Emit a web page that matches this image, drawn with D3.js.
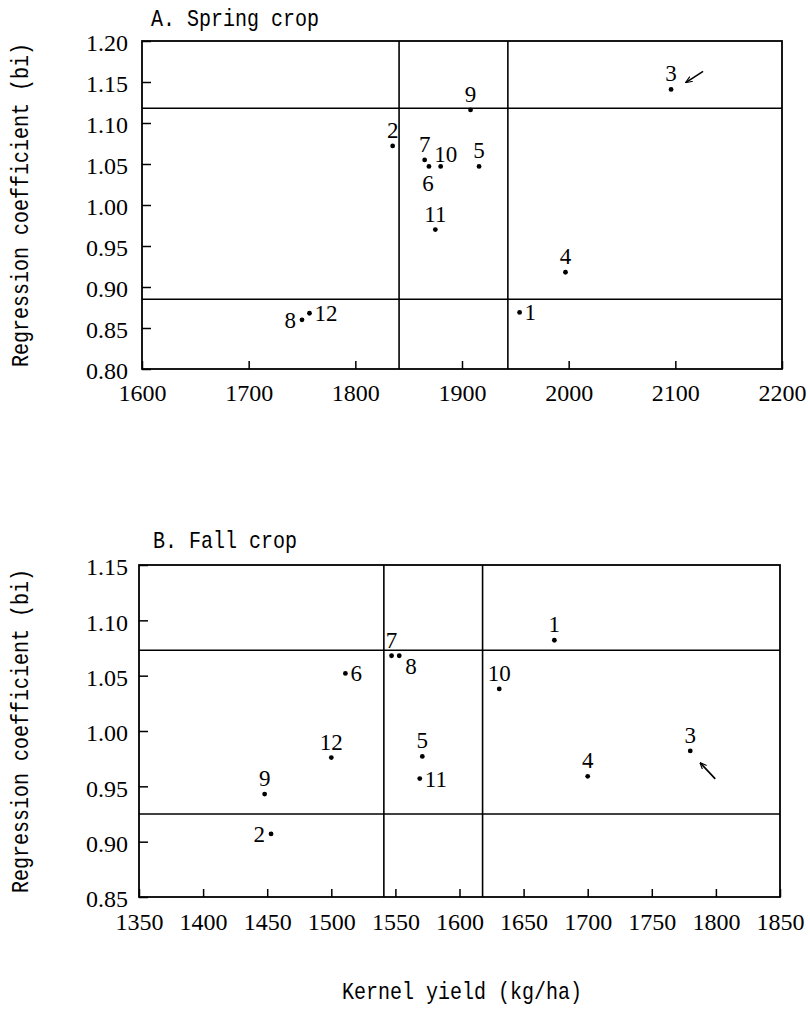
<!DOCTYPE html>
<html>
<head>
<meta charset="utf-8">
<script src="https://cdn.jsdelivr.net/npm/d3@7"></script>
<style>
  body { margin: 0; background: #fff; }
</style>
</head>
<body>
<div id="chart"></div>
<script>
// genotype numbers, same for both seasons
var genotypes = [1, 2, 3, 4, 5, 6, 7, 8, 9, 10, 11, 12];

// A. spring crop: kernel yield (kg/ha) and regression coefficient bi
var springYield = [1954, 1835, 2096, 1997, 1916, 1869, 1865, 1750, 1908, 1880, 1875, 1757];
var springBi = [0.869, 1.072, 1.141, 0.918, 1.047, 1.047, 1.055, 0.860, 1.116, 1.047, 0.970, 0.868];

// B. fall crop
var fallYield = [1674, 1453, 1780, 1700, 1571, 1511, 1547, 1553, 1448, 1631, 1569, 1500];
var fallBi = [1.082, 0.907, 0.982, 0.959, 0.977, 1.052, 1.068, 1.068, 0.943, 1.038, 0.957, 0.976];

// tick values
var springYieldTicks = [1600, 1700, 1800, 1900, 2000, 2100, 2200];
var springBiTicks = [0.80, 0.85, 0.90, 0.95, 1.00, 1.05, 1.10, 1.15, 1.20];
var fallYieldTicks = [1350, 1400, 1450, 1500, 1550, 1600, 1650, 1700, 1750, 1800, 1850];
var fallBiTicks = [0.85, 0.90, 0.95, 1.00, 1.05, 1.10, 1.15];

// reference lines splitting each panel
var springYieldLines = [1841, 1943];
var springBiLines = [0.885, 1.118];
var fallYieldLines = [1541, 1618];
var fallBiLines = [0.925, 1.073];

// which side of the dot each genotype number is written on
var springLabelSide = ["e", "n", "n", "n", "n", "s", "n", "w", "n", "ne", "n", "e"];
var fallLabelSide = ["n", "w", "n", "n", "n", "e", "n", "se", "n", "n", "e", "n"];

var labelOffset = {
  n:  { dx: 0,  dy: -8, anchor: "middle" },
  s:  { dx: -1, dy: 25, anchor: "middle" },
  e:  { dx: 5,  dy: 8,  anchor: "start" },
  w:  { dx: -6, dy: 8,  anchor: "end" },
  ne: { dx: 5,  dy: -4, anchor: "middle" },
  se: { dx: 6,  dy: 18, anchor: "start" }
};

var numFont = "'Liberation Serif', serif";
var wordFont = "'Liberation Mono', monospace";

var width = 810, height = 1009;

var svg = d3.select("#chart").append("svg")
  .attr("width", width)
  .attr("height", height)
  .style("background", "#fff");

svg.append("defs").append("marker")
  .attr("id", "head")
  .attr("viewBox", "0 -5 10 10")
  .attr("refX", 9)
  .attr("refY", 0)
  .attr("markerWidth", 7)
  .attr("markerHeight", 7)
  .attr("markerUnits", "userSpaceOnUse")
  .attr("orient", "auto")
  .append("path")
  .attr("d", "M0,-4L10,0L0,4")
  .attr("fill", "none")
  .attr("stroke", "#000")
  .attr("stroke-width", 1.6);

// tall narrow text, like the half-width Mincho in the original
function wordText(sel, x, y, rot, anchor, str) {
  return sel.append("text")
    .attr("transform", "translate(" + x + "," + y + ")" + (rot ? " rotate(-90)" : "") + " scale(1,1.2)")
    .attr("text-anchor", anchor)
    .style("font-family", wordFont)
    .style("font-size", "20px")
    .attr("fill", "#000")
    .text(str);
}

function drawPanel(p) {
  var g = svg.append("g");

  var x = d3.scaleLinear().domain(d3.extent(p.xTicks)).range([p.left, p.right]);
  var y = d3.scaleLinear().domain(d3.extent(p.yTicks)).range([p.bottom, p.top]);

  // frame
  g.append("rect")
    .attr("x", p.left).attr("y", p.top)
    .attr("width", p.right - p.left).attr("height", p.bottom - p.top)
    .attr("fill", "none").attr("stroke", "#000").attr("stroke-width", 1.8);

  // dividing lines
  g.selectAll(".vline").data(p.xLines).enter().append("line")
    .attr("x1", function(d) { return x(d); }).attr("x2", function(d) { return x(d); })
    .attr("y1", p.top).attr("y2", p.bottom)
    .attr("stroke", "#000").attr("stroke-width", 1.6);

  g.selectAll(".hline").data(p.yLines).enter().append("line")
    .attr("x1", p.left).attr("x2", p.right)
    .attr("y1", function(d) { return y(d); }).attr("y2", function(d) { return y(d); })
    .attr("stroke", "#000").attr("stroke-width", 1.6);

  // axes, ticks point inward
  var xAxis = g.append("g").attr("transform", "translate(0," + p.bottom + ")")
    .call(d3.axisBottom(x).tickValues(p.xTicks).tickSizeInner(-8).tickSizeOuter(0)
      .tickPadding(p.xPad).tickFormat(d3.format("d")));
  var yAxis = g.append("g").attr("transform", "translate(" + p.left + ",0)")
    .call(d3.axisLeft(y).tickValues(p.yTicks).tickSizeInner(-9).tickSizeOuter(0)
      .tickPadding(p.yPad).tickFormat(d3.format(".2f")));

  [xAxis, yAxis].forEach(function(a) {
    a.attr("font-family", numFont).attr("font-size", 24);
    a.select(".domain").remove();
    a.selectAll(".tick line").attr("stroke", "#000").attr("stroke-width", 1.5);
    a.selectAll(".tick text")
      .attr("fill", "#000")
      .style("font-family", numFont)
      .style("font-size", "24px");
  });
  yAxis.selectAll(".tick text").attr("y", 2);

  // points
  var pts = genotypes.map(function(gt, i) {
    return { id: gt, yield: p.yields[i], bi: p.bis[i], side: p.sides[i] };
  });

  g.selectAll("circle").data(pts).enter().append("circle")
    .attr("cx", function(d) { return x(d.yield); })
    .attr("cy", function(d) { return y(d.bi); })
    .attr("r", 2.4)
    .attr("fill", "#000");

  g.selectAll(".lab").data(pts).enter().append("text")
    .style("font-family", numFont)
    .style("font-size", "23px")
    .attr("fill", "#000")
    .attr("x", function(d) { return x(d.yield) + labelOffset[d.side].dx; })
    .attr("y", function(d) { return y(d.bi) + labelOffset[d.side].dy; })
    .attr("text-anchor", function(d) { return labelOffset[d.side].anchor; })
    .text(function(d) { return d.id; });

  // arrow pointing at genotype 3
  var three = pts[2];
  var cx = x(three.yield), cy = y(three.bi);
  g.append("line")
    .attr("x1", cx + p.arrow[0]).attr("y1", cy + p.arrow[1])
    .attr("x2", cx + p.arrow[2]).attr("y2", cy + p.arrow[3])
    .attr("stroke", "#000").attr("stroke-width", 1.6)
    .attr("marker-end", "url(#head)");

  // titles
  wordText(g, p.left + p.titleDx, p.titleY, false, "start", p.title);
  wordText(g, 28, (p.top + p.bottom) / 2, true, "middle", "Regression coefficient (bi)");
}

drawPanel({
  title: "A. Spring crop", titleY: 26, titleDx: 9,
  left: 142, right: 782, top: 41, bottom: 369,
  xTicks: springYieldTicks, yTicks: springBiTicks,
  xLines: springYieldLines, yLines: springBiLines,
  yields: springYield, bis: springBi, sides: springLabelSide,
  xPad: 15, yPad: 14,
  arrow: [32, -18, 15, -7]
});

drawPanel({
  title: "B. Fall crop", titleY: 548, titleDx: 14,
  left: 139, right: 780, top: 565, bottom: 897,
  xTicks: fallYieldTicks, yTicks: fallBiTicks,
  xLines: fallYieldLines, yLines: fallBiLines,
  yields: fallYield, bis: fallBi, sides: fallLabelSide,
  xPad: 16, yPad: 11,
  arrow: [25, 28, 10, 12]
});

wordText(svg, 462, 999, false, "middle", "Kernel yield (kg/ha)");
</script>
</body>
</html>
